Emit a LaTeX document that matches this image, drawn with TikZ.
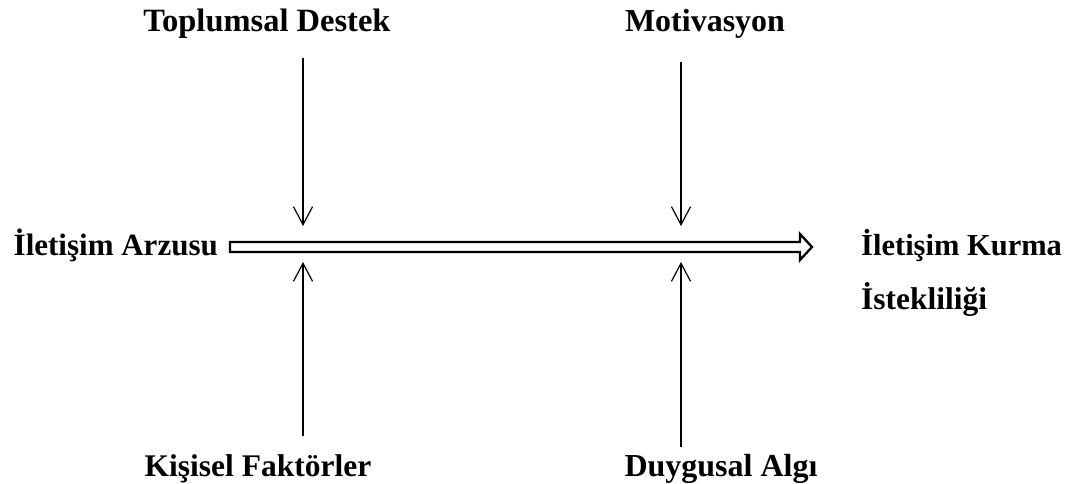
\documentclass[tikz,border=0pt]{standalone}
\usepackage{fontspec}
\setmainfont{Liberation Serif}
\usetikzlibrary{arrows.meta}
\newcommand{\labelsize}[1]{\fontsize{#1}{#1}\selectfont\bfseries}
\begin{document}
\begin{tikzpicture}[x=1pt,y=-1pt,
  label/.style={font=\labelsize{32}, inner sep=0pt},
  factor/.style={line width=1.2pt, -{Straight Barb[length=18pt,width=19pt,line width=1.2pt]}},
  flow/.style={line width=2.3pt, line join=miter, fill=white}]
\useasboundingbox (0,0) rectangle (1076,484);

% labels
\node[label, font=\labelsize{32.5}, anchor=base] (dest) at (267,32) {Toplumsal Destek};
\node[label, anchor=base] (mot) at (705,32) {Motivasyon};
\node[label, font=\labelsize{31}, anchor=base east] (arz) at (218,255) {İletişim Arzusu};
\node[label, font=\labelsize{30.5}, anchor=base west] (kur) at (861,255) {İletişim Kurma};
\node[label, font=\labelsize{31.5}, anchor=base west] (ist) at (861,309) {İstekliliği};
\node[label, font=\labelsize{31.5}, anchor=base] (kis) at (258,476) {Kişisel Faktörler};
\node[label, anchor=base] (duy) at (721,476) {Duygusal Algı};

% main block arrow
\draw[flow] (230,242) -- (800,242) -- (800,234) -- (812,247) -- (800,260)
  -- (800,252) -- (230,252) -- cycle;
\coordinate (tip) at (812,247);

% influencing factors
\coordinate (dtop) at (303,58);
\coordinate (dend) at (303,226);
\coordinate (mtop) at (681,62);
\coordinate (mend) at (681,226);
\coordinate (kbot) at (303,436);
\coordinate (kend) at (303,262);
\coordinate (ybot) at (681,447);
\coordinate (yend) at (681,262);

\draw[factor] (dtop) -- (dend);
\draw[factor] (mtop) -- (mend);
\draw[factor] (kbot) -- (kend);
\draw[factor] (ybot) -- (yend);
\end{tikzpicture}
\end{document}
